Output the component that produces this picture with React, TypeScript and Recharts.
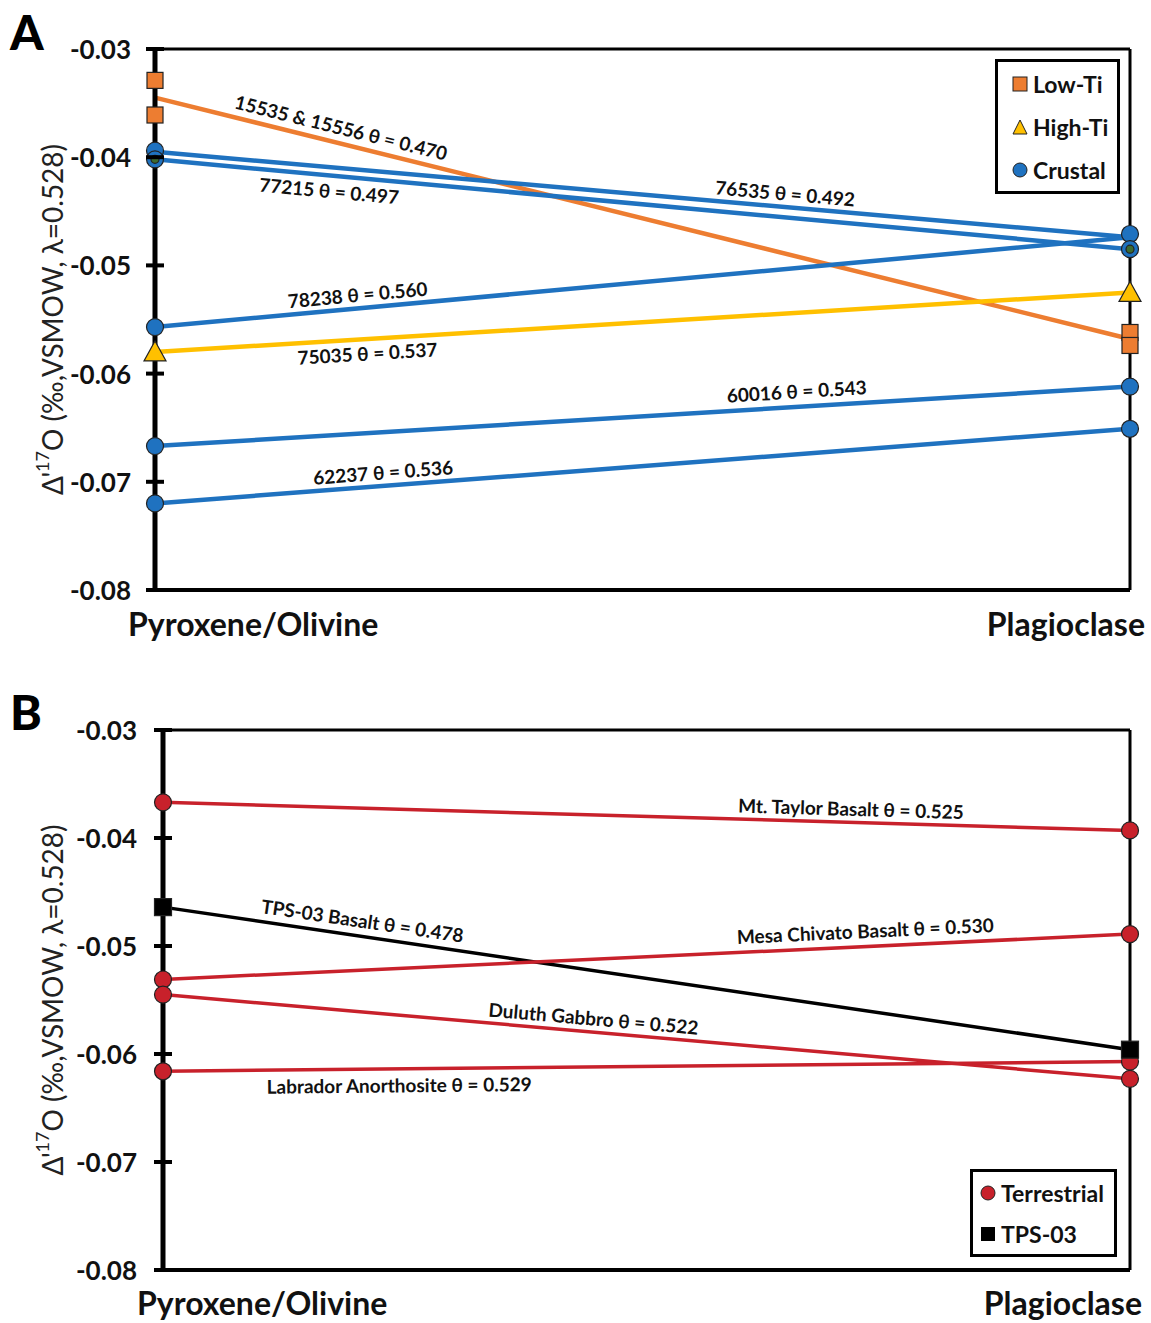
import React from "react";
import {
  ComposedChart,
  Line,
  Scatter,
  XAxis,
  YAxis,
  ReferenceDot,
  ReferenceLine,
  Legend,
} from "recharts";

const FONT = "Lato, 'Open Sans', 'DejaVu Sans', sans-serif";

const categories = ["Pyroxene/Olivine", "Plagioclase"];
const yTicks = [-0.08, -0.07, -0.06, -0.05, -0.04, -0.03];
const yTickLabels = ["-0.08", "-0.07", "-0.06", "-0.05", "-0.04", "-0.03"];

// panel A: lunar samples (line ends)
const samplesA = ["15535 & 15556", "77215", "76535", "78238", "75035", "60016", "62237"];
const groupsA = ["Low-Ti", "Crustal", "Crustal", "Crustal", "High-Ti", "Crustal", "Crustal"];
const thetaA = ["0.470", "0.497", "0.492", "0.560", "0.537", "0.543", "0.536"];
const pyxA = [-0.0345, -0.0402, -0.0395, -0.0557, -0.058, -0.0667, -0.072];
const plagA = [-0.0568, -0.0485, -0.0474, -0.0474, -0.0525, -0.0612, -0.0651];

// panel A: measured points
const lowTiPyx = [-0.0329, -0.0361];
const lowTiPlag = [-0.0562, -0.0574];
const highTiPyx = [-0.058];
const highTiPlag = [-0.0525];
const crustalPyx = [-0.0394, -0.0402, -0.0557, -0.0667, -0.072];
const crustalPlag = [-0.0471, -0.0485, -0.0612, -0.0651];
const overlapPyx = [-0.0402];
const overlapPlag = [-0.0485];

// panel B: terrestrial samples
const samplesB = ["Mt. Taylor Basalt", "TPS-03 Basalt", "Mesa Chivato Basalt", "Duluth Gabbro", "Labrador Anorthosite"];
const groupsB = ["Terrestrial", "TPS-03", "Terrestrial", "Terrestrial", "Terrestrial"];
const thetaB = ["0.525", "0.478", "0.530", "0.522", "0.529"];
const pyxB = [-0.0367, -0.0464, -0.0531, -0.0545, -0.0616];
const plagB = [-0.0393, -0.0596, -0.0489, -0.0623, -0.0607];

// label placement along each line (fraction of width, perpendicular offset px)
const labelPlaceA = [
  { t: 0.187, off: -16 },
  { t: 0.18, off: 15 },
  { t: 0.645, off: -14 },
  { t: 0.209, off: -14 },
  { t: 0.217, off: 14 },
  { t: 0.659, off: -16 },
  { t: 0.235, off: -14 },
];
const labelPlaceB = [
  { t: 0.711, off: -14 },
  { t: 0.204, off: -16 },
  { t: 0.727, off: -16 },
  { t: 0.444, off: -14 },
  { t: 0.244, off: 16 },
];

const colors: Record<string, string> = {
  "Low-Ti": "#ED7D31",
  "High-Ti": "#FFC000",
  Crustal: "#1F72C0",
  Terrestrial: "#C8212B",
  "TPS-03": "#000000",
};

const pts = (pyx: number[], plag: number[]) => [
  ...pyx.map((y) => ({ x: 0, y })),
  ...plag.map((y) => ({ x: 1, y })),
];

const circle = (fill: string, r: number) => (p: any) =>
  <circle cx={p.cx} cy={p.cy} r={r} fill={fill} stroke="#222" strokeWidth={1.2} />;
const square = (fill: string, s: number) => (p: any) =>
  <rect x={p.cx - s / 2} y={p.cy - s / 2} width={s} height={s} fill={fill} stroke="#222" strokeWidth={1.2} />;
const triangle = (fill: string) => (p: any) =>
  <path d={`M${p.cx},${p.cy - 11} L${p.cx + 11},${p.cy + 9} L${p.cx - 11},${p.cy + 9} Z`} fill={fill} stroke="#222" strokeWidth={1.2} />;

type Frame = { width: number; height: number; left: number; top: number; right: number; bottom: number };

function YTick({ y, payload, frame, gap }: any) {
  const ax = frame.left;
  const i = yTicks.indexOf(payload.value);
  return (
    <g>
      <line x1={ax - 9} x2={ax + 9} y1={y} y2={y} stroke="#000" strokeWidth={4} />
      <text x={ax - gap} y={y} textAnchor="end" dominantBaseline="central" fontFamily={FONT} fontWeight={700} fontSize={26} fill="#111">
        {yTickLabels[i]}
      </text>
    </g>
  );
}

function CatTick({ x, payload, ty, dl, dr }: any) {
  const first = payload.value === 0;
  return (
    <text x={first ? x + dl : x + dr} y={ty} textAnchor={first ? "start" : "end"} dominantBaseline="central" fontFamily={FONT} fontWeight={700} fontSize={32} fill="#111">
      {first ? categories[0] : categories[1]}
    </text>
  );
}

function YTitle({ cx, cy }: any) {
  return (
    <text transform={`translate(${cx},${cy}) rotate(-90)`} textAnchor="middle" dominantBaseline="central" fontFamily={FONT} fontSize={28} fill="#222">
      Δ'<tspan dy={-10} fontSize={18}>17</tspan>
      <tspan dy={10}>O (‰,VSMOW, λ=0.528)</tspan>
    </text>
  );
}

function LegendBox({ items, rowGap, width, pad }: any) {
  return (
    <div style={{ boxSizing: "border-box", width, border: "3px solid #000", background: "#fff", paddingLeft: pad, fontFamily: FONT, fontWeight: 700, fontSize: 23, color: "#111", whiteSpace: "nowrap" }}>
      {items.map((it: any) => (
        <div key={it.label} style={{ display: "flex", alignItems: "center", height: rowGap }}>
          <svg width={16} height={16} style={{ marginRight: 5, flexShrink: 0 }}>
            {it.shape === "square" && <rect x={1} y={1} width={14} height={14} fill={colors[it.label]} stroke="#222" strokeWidth={it.label === "TPS-03" ? 0 : 1} />}
            {it.shape === "triangle" && <path d="M8,1 L15,15 L1,15 Z" fill={colors[it.label]} stroke="#222" strokeWidth={1} />}
            {it.shape === "circle" && <circle cx={8} cy={8} r={7} fill={colors[it.label]} stroke="#222" strokeWidth={1} />}
          </svg>
          <span>{it.label}</span>
        </div>
      ))}
    </div>
  );
}

function Panel({ frame, samples, groups, theta, pyx, plag, place, lineWidth, markers, legend, catY, dl, dr, tickGap }: any) {
  const plotW = frame.right - frame.left;
  const plotH = frame.bottom - frame.top;
  return (
    <ComposedChart
      width={frame.width}
      height={frame.height}
      margin={{ top: frame.top, right: frame.width - frame.right, left: 0, bottom: 0 }}
    >
      <XAxis
        type="number"
        dataKey="x"
        domain={[0, 1]}
        ticks={[0, 1]}
        height={frame.height - frame.bottom}
        tickLine={false}
        axisLine={{ stroke: "#000", strokeWidth: 4 }}
        tick={<CatTick ty={catY} dl={dl} dr={dr} />}
      />
      <YAxis
        type="number"
        dataKey="y"
        domain={[-0.08, -0.03]}
        ticks={yTicks}
        width={frame.left}
        tickLine={false}
        axisLine={{ stroke: "#000", strokeWidth: 5 }}
        tick={<YTick frame={frame} gap={tickGap} />}
        label={<YTitle cx={52} cy={(frame.top + frame.bottom) / 2} />}
      />
      <ReferenceLine y={-0.03} stroke="#000" strokeWidth={3} ifOverflow="visible" />
      <ReferenceLine x={1} stroke="#000" strokeWidth={3} ifOverflow="visible" />

      {samples.map((s: string, i: number) => (
        <Line
          key={s}
          data={[{ x: 0, y: pyx[i] }, { x: 1, y: plag[i] }]}
          dataKey="y"
          stroke={colors[groups[i]]}
          strokeWidth={lineWidth}
          dot={false}
          activeDot={false}
          isAnimationActive={false}
          legendType="none"
        />
      ))}

      {markers.map((m: any) => (
        <Scatter key={m.key} data={m.data} shape={m.shape} isAnimationActive={false} legendType="none" />
      ))}

      {samples.map((s: string, i: number) => {
        const { t, off } = place[i];
        const v = pyx[i] + (plag[i] - pyx[i]) * t;
        const dyPx = (-(plag[i] - pyx[i]) / 0.05) * plotH;
        const angle = (Math.atan2(dyPx, plotW) * 180) / Math.PI;
        return (
          <ReferenceDot
            key={"lbl" + s}
            x={t}
            y={v}
            r={0}
            ifOverflow="visible"
            shape={(p: any) => (
              <text
                transform={`translate(${p.cx},${p.cy}) rotate(${angle})`}
                x={0}
                y={off}
                textAnchor="middle"
                dominantBaseline="central"
                fontFamily={FONT}
                fontWeight={700}
                fontSize={19}
                fill="#111"
              >
                {`${s} θ = ${theta[i]}`}
              </text>
            )}
          />
        );
      })}

      <Legend
        verticalAlign="middle"
        content={() => <LegendBox items={legend.items} rowGap={legend.rowGap} width={legend.width} pad={legend.pad} />}
        wrapperStyle={{ position: "absolute", left: legend.left, top: legend.top, width: legend.width, bottom: "auto" }}
      />
    </ComposedChart>
  );
}

const frameA: Frame = { width: 1151, height: 660, left: 155, top: 49, right: 1130, bottom: 590 };
const frameB: Frame = { width: 1151, height: 663, left: 163, top: 70, right: 1130, bottom: 610 };

export default function App() {
  const markersA = [
    { key: "low", data: pts(lowTiPyx, lowTiPlag), shape: square(colors["Low-Ti"], 16) },
    { key: "high", data: pts(highTiPyx, highTiPlag), shape: triangle(colors["High-Ti"]) },
    { key: "crust", data: pts(crustalPyx, crustalPlag), shape: circle(colors.Crustal, 8.5) },
    { key: "ovl", data: pts(overlapPyx, overlapPlag), shape: circle("#3E6B2F", 4) },
  ];
  const terrPyx = pyxB.filter((_, i) => groupsB[i] === "Terrestrial");
  const terrPlag = plagB.filter((_, i) => groupsB[i] === "Terrestrial");
  const tpsPyx = pyxB.filter((_, i) => groupsB[i] === "TPS-03");
  const tpsPlag = plagB.filter((_, i) => groupsB[i] === "TPS-03");
  const markersB = [
    { key: "terr", data: pts(terrPyx, terrPlag), shape: circle(colors.Terrestrial, 8.5) },
    { key: "tps", data: pts(tpsPyx, tpsPlag), shape: square(colors["TPS-03"], 17) },
  ];

  return (
    <div style={{ position: "absolute", left: 0, top: 0, width: 1151, height: 1323, background: "#fff" }}>
      <div style={{ position: "relative", width: 1151, height: 660 }}>
        <Panel
          frame={frameA}
          samples={samplesA}
          groups={groupsA}
          theta={thetaA}
          pyx={pyxA}
          plag={plagA}
          place={labelPlaceA}
          lineWidth={4.5}
          markers={markersA}
          catY={623}
          dl={-27}
          dr={15}
          tickGap={24}
          legend={{
            left: 995,
            top: 59,
            width: 125,
            rowGap: 43,
            pad: 14,
            items: [
              { label: "Low-Ti", shape: "square" },
              { label: "High-Ti", shape: "triangle" },
              { label: "Crustal", shape: "circle" },
            ],
          }}
        />
        <div style={{ position: "absolute", left: 10, top: 8, fontFamily: FONT, fontWeight: 900, fontSize: 48, lineHeight: 1 }}>A</div>
      </div>
      <div style={{ position: "relative", width: 1151, height: 663 }}>
        <Panel
          frame={frameB}
          samples={samplesB}
          groups={groupsB}
          theta={thetaB}
          pyx={pyxB}
          plag={plagB}
          place={labelPlaceB}
          lineWidth={3.5}
          markers={markersB}
          catY={642}
          dl={-26}
          dr={12}
          tickGap={26}
          legend={{
            left: 970,
            top: 509,
            width: 147,
            rowGap: 41,
            pad: 7,
            items: [
              { label: "Terrestrial", shape: "circle" },
              { label: "TPS-03", shape: "square" },
            ],
          }}
        />
        <div style={{ position: "absolute", left: 10, top: 28, fontFamily: FONT, fontWeight: 900, fontSize: 48, lineHeight: 1 }}>B</div>
      </div>
    </div>
  );
}
